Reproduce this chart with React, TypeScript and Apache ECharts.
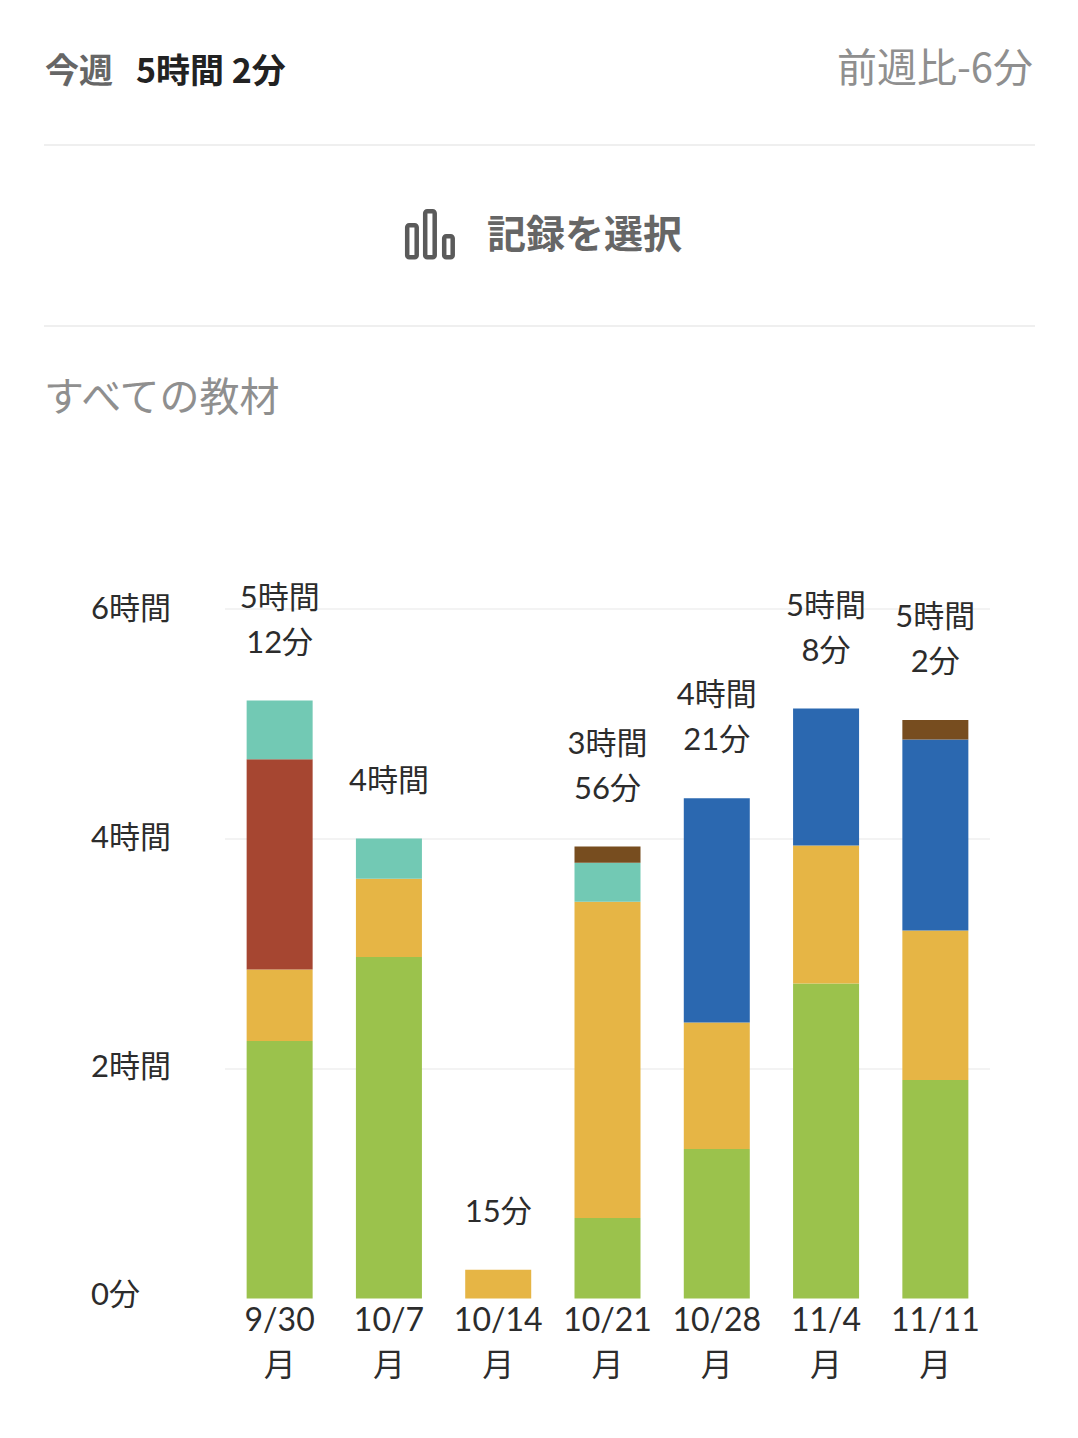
import React, { useEffect, useRef } from "react";
import * as echarts from "echarts";

const categories = ["9/30\n月", "10/7\n月", "10/14\n月", "10/21\n月", "10/28\n月", "11/4\n月", "11/11\n月"];
const greenValues = [2.24, 2.97, 0, 0.7, 1.3, 2.74, 1.9];
const yellowValues = [0.62, 0.68, 0.25, 2.75, 1.1, 1.2, 1.3];
const redValues = [1.83, 0, 0, 0, 0, 0, 0];
const tealValues = [0.51, 0.35, 0, 0.34, 0, 0, 0];
const blueValues = [0, 0, 0, 0, 1.95, 1.19, 1.66];
const brownValues = [0, 0, 0, 0.14, 0, 0, 0.17];
const totalValues = [5.2, 4.0, 0.25, 3.93, 4.35, 5.13, 5.03];
const totalLabels = ["5時間\n12分", "4時間", "15分", "3時間\n56分", "4時間\n21分", "5時間\n8分", "5時間\n2分"];
const yTickLabels: Record<number, string> = { 0: "0分", 2: "2時間", 4: "4時間", 6: "6時間" };

const FONT = "Lato, 'Noto Sans CJK JP', sans-serif";
const CJK = "'Noto Sans CJK JP', sans-serif";

const stack = (name: string, data: number[], color: string) => ({
  name,
  type: "bar",
  stack: "total",
  barWidth: 66,
  data: data.map((v) => (v === 0 ? "-" : v)),
  itemStyle: { color },
  silent: true,
});

const yRich = (pad: number) => ({
  color: "#2c2c2c",
  fontSize: 31,
  fontFamily: FONT,
  padding: [0, 0, pad, 0],
});

export default function App() {
  const ref = useRef<HTMLDivElement>(null);
  useEffect(() => {
    document.body.style.margin = "0";
    const chart = echarts.init(ref.current!, null, { renderer: "svg" });
    const iconBar = (x: number, y: number, w: number, h: number) => ({
      type: "rect",
      shape: { x, y, width: w, height: h, r: 2 },
      style: { fill: "#fff", stroke: "#5a5a5a", lineWidth: 4.5 },
    });
    const divider = (y: number) => ({
      type: "line",
      shape: { x1: 44, y1: y, x2: 1035, y2: y },
      style: { stroke: "#efefef", lineWidth: 2 },
    });
    const text = (x: number, y: number, t: string, size: number, fill: string, weight: any = "normal", align: any = "left") => ({
      type: "text",
      x,
      y,
      style: { text: t, font: `${weight} ${size}px ${CJK}`, fill, textAlign: align, textVerticalAlign: "middle" },
    });
    chart.setOption({
      animation: false,
      backgroundColor: "#ffffff",
      grid: { left: 225, right: 88, top: 608.5, height: 690, containLabel: false },
      xAxis: {
        type: "category",
        data: categories,
        axisLine: { show: false },
        axisTick: { show: false },
        axisLabel: { color: "#2c2c2c", fontSize: 32, fontFamily: FONT, lineHeight: 45, margin: -3, interval: 0 },
      },
      yAxis: {
        type: "value",
        min: 0,
        max: 6,
        interval: 2,
        axisLine: { show: false },
        axisTick: { show: false },
        splitLine: { showMinLine: false, lineStyle: { color: "#efefef", width: 1.5 } },
        axisLabel: {
          align: "left",
          margin: 134,
          formatter: (v: number) => `{t${v}|${yTickLabels[v] ?? ""}}`,
          rich: { t0: yRich(12), t2: yRich(8), t4: yRich(6), t6: yRich(4) },
        },
      },
      series: [
        stack("green", greenValues, "#9BC24C"),
        stack("yellow", yellowValues, "#E6B545"),
        stack("red", redValues, "#A64631"),
        stack("teal", tealValues, "#72C9B4"),
        stack("blue", blueValues, "#2B68B0"),
        stack("brown", brownValues, "#774D1F"),
        {
          name: "total",
          type: "line",
          data: totalValues,
          symbol: "circle",
          symbolSize: 1,
          silent: true,
          itemStyle: { color: "rgba(0,0,0,0)" },
          lineStyle: { opacity: 0 },
          label: {
            show: true,
            position: "top",
            distance: 37,
            color: "#2c2c2c",
            fontSize: 31,
            fontFamily: FONT,
            lineHeight: 45,
            formatter: (p: any) => totalLabels[p.dataIndex],
          },
        },
      ],
      graphic: [
        text(45, 68, "今週", 34, "#666666", "bold"),
        text(136, 68, "5時間 2分", 34, "#222222", "bold"),
        text(1033, 65, "前週比-6分", 40, "#8f8f8f", "normal", "right"),
        divider(145),
        iconBar(407.2, 225.2, 9.5, 32),
        iconBar(425.2, 211.2, 9.5, 46),
        iconBar(444.2, 236.2, 8.5, 21),
        text(487, 231, "記録を選択", 39, "#666666", "bold"),
        divider(326),
        text(44, 394, "すべての教材", 40, "#8f8f8f", "normal"),
      ],
    });
    return () => chart.dispose();
  }, []);
  return <div ref={ref} style={{ width: 1078, height: 1438 }} />;
}
